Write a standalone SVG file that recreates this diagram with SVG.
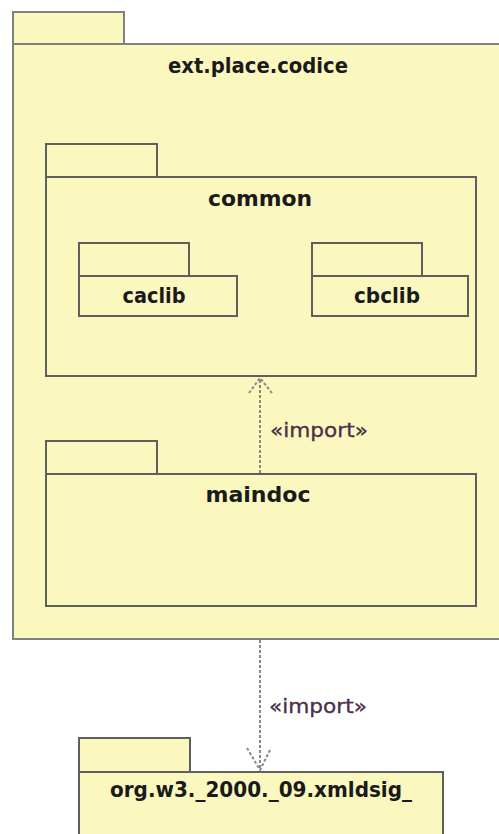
<svg xmlns="http://www.w3.org/2000/svg" width="499" height="834" viewBox="0 0 499 834">
  <style>
    .pkg { fill: #FAF8BF; stroke: #5f5f5f; stroke-width: 2; }
    .outer { fill: #FAF8BF; stroke: #808080; stroke-width: 2; }
    .name { font-family: "DejaVu Sans", "Liberation Sans", sans-serif; font-weight: bold; font-size: 21px; fill: #1a1a1a; text-anchor: middle; }
    .stereo { font-family: "DejaVu Sans", "Liberation Sans", sans-serif; font-size: 19px; fill: #4a2e4a; stroke: #4a2e4a; stroke-width: 0.3; }
    .dep { fill: none; stroke: #888888; stroke-width: 2; stroke-dasharray: 3 2; }
  </style>
  <rect width="499" height="834" fill="#ffffff"/>

  <g id="ext.place.codice">
    <rect class="outer" x="13" y="12" width="111" height="32"/>
    <rect class="outer" x="13" y="44" width="500" height="595"/>
    <text class="name" x="258" y="73" textLength="180" lengthAdjust="spacingAndGlyphs">ext.place.codice</text>
  </g>

  <g id="common">
    <rect class="pkg" x="46" y="144" width="111" height="33"/>
    <rect class="pkg" x="46" y="177" width="430" height="199"/>
    <text class="name" x="260" y="206" textLength="104" lengthAdjust="spacingAndGlyphs">common</text>
  </g>

  <g id="caclib">
    <rect class="pkg" x="79" y="243" width="110" height="33"/>
    <rect class="pkg" x="79" y="276" width="158" height="40"/>
    <text class="name" x="154" y="303" textLength="63" lengthAdjust="spacingAndGlyphs">caclib</text>
  </g>

  <g id="cbclib">
    <rect class="pkg" x="312" y="243" width="110" height="33"/>
    <rect class="pkg" x="312" y="276" width="156" height="40"/>
    <text class="name" x="387" y="303" textLength="66" lengthAdjust="spacingAndGlyphs">cbclib</text>
  </g>

  <g id="maindoc">
    <rect class="pkg" x="46" y="441" width="111" height="33"/>
    <rect class="pkg" x="46" y="474" width="430" height="132"/>
    <text class="name" x="258" y="502" textLength="105" lengthAdjust="spacingAndGlyphs">maindoc</text>
  </g>

  <g id="org.w3._2000._09.xmldsig_">
    <rect class="pkg" x="79" y="738" width="111" height="34"/>
    <rect class="pkg" x="79" y="772" width="364" height="80"/>
    <text class="name" x="261" y="797" textLength="302" lengthAdjust="spacingAndGlyphs">org.w3._2000._09.xmldsig_</text>
  </g>

  <g id="connectors">
    <g id="maindoc-to-common">
      <line class="dep" x1="260" y1="473" x2="260" y2="378"/>
      <path class="dep" d="M249,393 L260,378 L272,393"/>
      <text class="stereo" x="270" y="437" textLength="98" lengthAdjust="spacingAndGlyphs">«import»</text>
    </g>
    <g id="codice-to-xmldsig">
      <line class="dep" x1="260" y1="640" x2="260" y2="770"/>
      <path class="dep" d="M247,748 L260,770 L271,748"/>
      <text class="stereo" x="269" y="713" textLength="98" lengthAdjust="spacingAndGlyphs">«import»</text>
    </g>
  </g>
</svg>
